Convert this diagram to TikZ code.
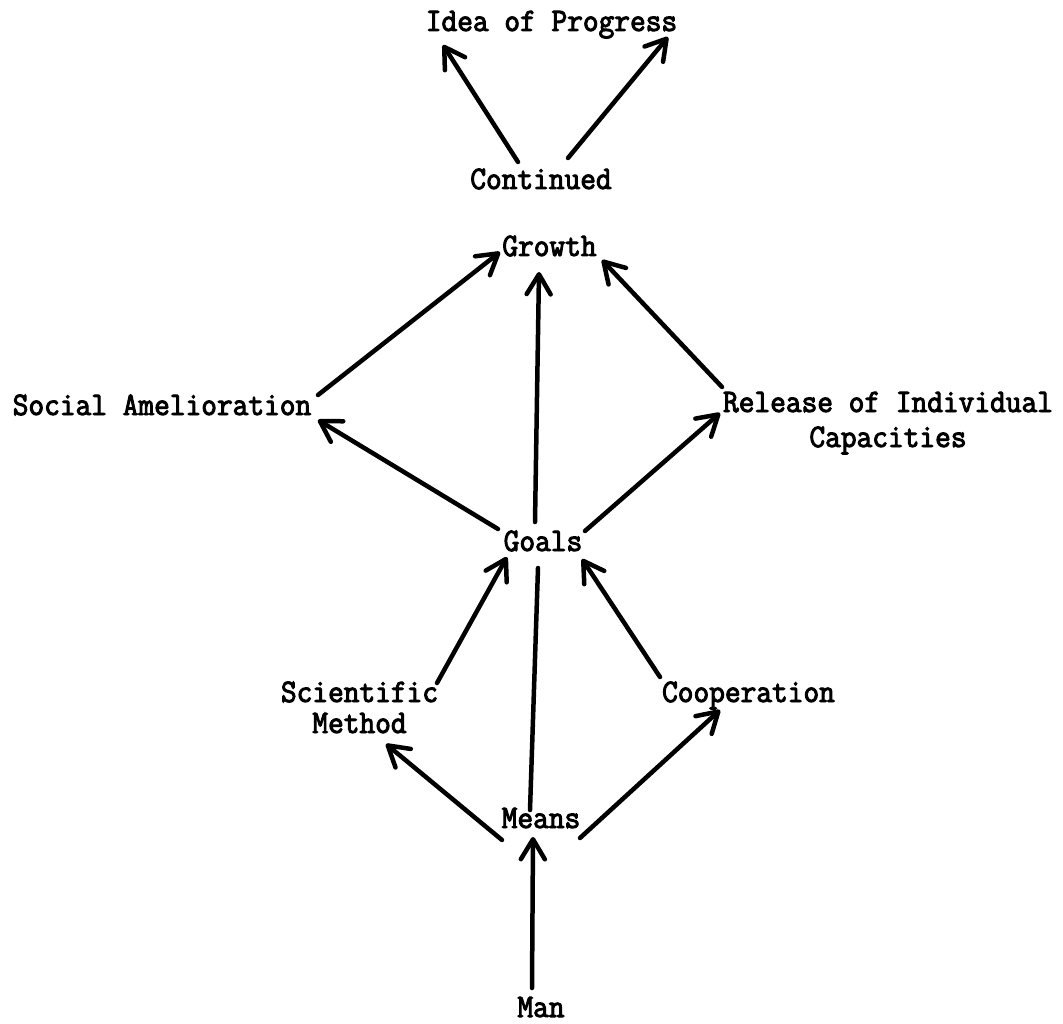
\documentclass[tikz,border=0pt]{standalone}
\usepackage{fontspec}
\usetikzlibrary{arrows.meta}
\newfontfamily\tw{Latin Modern Mono}[FakeStretch=0.93,FakeBold=3]
\begin{document}
\begin{tikzpicture}[x=1pt,y=-1pt,
  lbl/.style={anchor=base,inner sep=0pt,align=center,
    font=\tw\fontsize{32.8}{35}\selectfont},
  conn/.style={line width=4.5pt,line cap=round,line join=round},
  arr/.style={conn,-{Straight Barb[length=20pt,width=24pt,line cap=round,line join=round]}}]
\useasboundingbox (0,0) rectangle (1063,1024);

% labels, placed by the baselines of their last lines
\node[lbl] (prog)    at (551.5,31)  {Idea of Progress};
\node[lbl] (cont)    at (541,189)   {Continued};
\node[lbl] (growth)  at (549.5,256) {Growth};
\node[lbl] (social)  at (162,415)   {Social Amelioration};
\node[lbl] (release) at (888,447)   {Release of Individual\\Capacities};
\node[lbl] (goals)   at (543,551)   {Goals};
\node[lbl] (sci)     at (359.5,733) {Scientific\\[-4pt]Method};
\node[lbl] (coop)    at (748.5,702) {Cooperation};
\node[lbl] (means)   at (541,828)   {Means};
\node[lbl] (man)     at (541,1017)  {Man};

% connectors
\draw[arr] ([shift={(-23,-27)}]cont.base) -- ([shift={(-108.5,14)}]prog.base);
\draw[arr] ([shift={(27,-31)}]cont.base) -- ([shift={(116.5,6)}]prog.base);

\draw[arr] ([shift={(156,-20)}]social.base) -- ([shift={(-49.5,-4)}]growth.base);
\draw[arr] ([shift={(-8,-29)}]goals.base) -- ([shift={(-10.5,16)}]growth.base);
\draw[arr] ([shift={(-166,-60)}]release.base) -- ([shift={(52.5,4)}]growth.base);

\draw[arr] ([shift={(-45,-22)}]goals.base) -- ([shift={(156,5)}]social.base);
\draw[arr] ([shift={(42,-20)}]goals.base) -- ([shift={(-168,-34)}]release.base);

\draw[arr] ([shift={(77.5,-50)}]sci.base) -- ([shift={(-36,6)}]goals.base);
\draw[arr] ([shift={(-88.5,-25)}]coop.base) -- ([shift={(39,8)}]goals.base);
\draw[conn] ([shift={(-11,-18)}]means.base) -- ([shift={(-5,17)}]goals.base);

\draw[arr] ([shift={(-39,12)}]means.base) -- ([shift={(26.5,11)}]sci.base);
\draw[arr] ([shift={(39,10)}]means.base) -- ([shift={(-28.5,8)}]coop.base);

\draw[arr] ([shift={(-9,-29)}]man.base) -- ([shift={(-8,9)}]means.base);
\end{tikzpicture}
\end{document}
